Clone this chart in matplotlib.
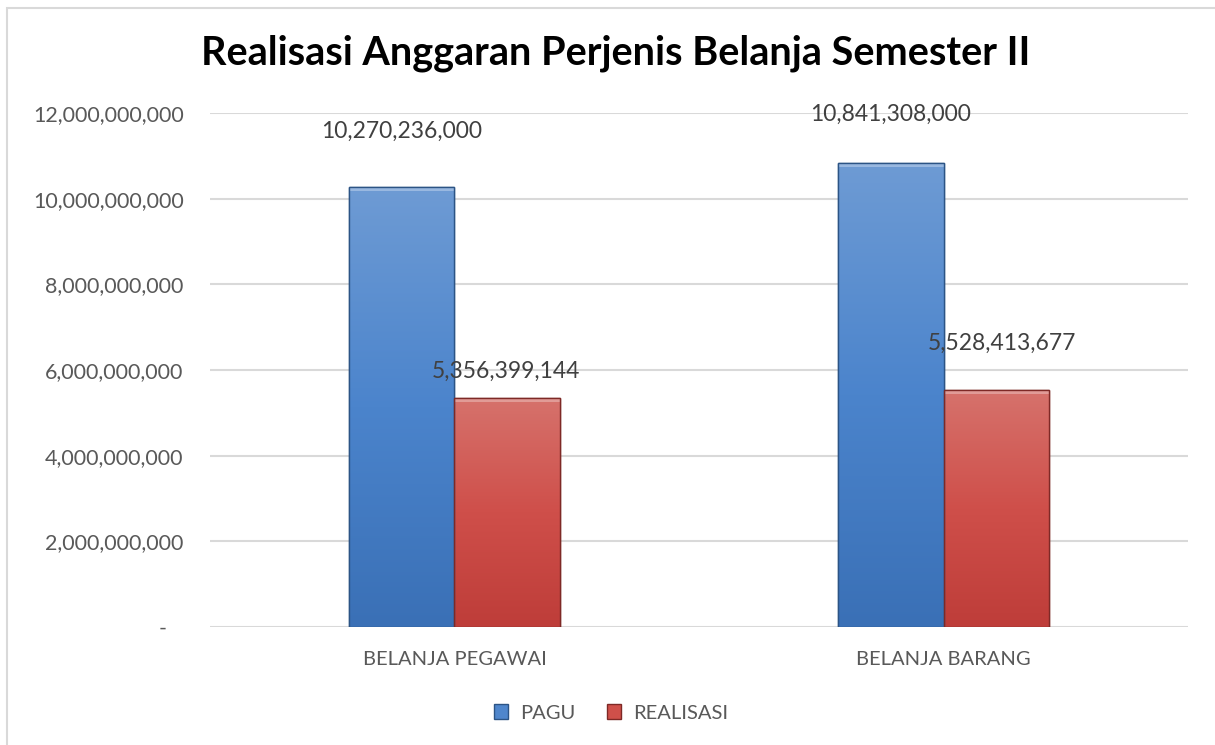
import matplotlib
matplotlib.use("Agg")
import matplotlib.pyplot as plt
import numpy as np
from matplotlib.colors import LinearSegmentedColormap
from matplotlib.ticker import FuncFormatter, MultipleLocator
from matplotlib.patches import Rectangle

categories = ["BELANJA PEGAWAI", "BELANJA BARANG"]
series_names = ["PAGU", "REALISASI"]
pagu = [10270236000, 10841308000]
realisasi = [5356399144, 5528413677]
title = "Realisasi Anggaran Perjenis Belanja Semester II"

plt.rcParams['font.family'] = ['Lato', 'DejaVu Sans']

fig = plt.figure(figsize=(12.15, 7.45), dpi=100)
ax = fig.add_axes([0.1728, 0.1584, 0.805, 0.6899])

x = np.arange(len(categories))
w = 0.215
cmaps = [
    LinearSegmentedColormap.from_list("b", ["#3a70b6", "#4b84cc", "#6e9bd4"]),
    LinearSegmentedColormap.from_list("r", ["#be3d39", "#cf4f4a", "#d6726c"]),
]
edges = ["#2c5485", "#7e2926"]
face = ["#4f86cc", "#cf504a"]

for i, vals in enumerate([pagu, realisasi]):
    bars = ax.bar(x + (i - 0.5) * w, vals, w, color=face[i], edgecolor=edges[i],
                  linewidth=1.0, zorder=3, label=series_names[i])
    grad = np.linspace(0, 1, 256).reshape(-1, 1)
    for b in bars:
        x0, y0 = b.get_x(), b.get_y()
        x1, y1 = x0 + b.get_width(), y0 + b.get_height()
        im = ax.imshow(grad, cmap=cmaps[i], origin="lower", aspect="auto",
                       extent=(x0, x1, y0, y1), zorder=3.5)
        im.set_clip_path(b)
        hb = 0.1e9
        ax.add_patch(Rectangle((x0, y1 - hb), b.get_width(), hb,
                               facecolor="white", alpha=0.3, edgecolor="none", zorder=3.6))
        ax.add_patch(Rectangle((x0, y0), b.get_width(), y1 - y0, facecolor="none",
                               edgecolor=edges[i], linewidth=1.0, zorder=3.7))

ax.set_xlim(-0.5, 1.5)
ax.set_ylim(0, 12e9)
ax.yaxis.set_major_locator(MultipleLocator(2e9))
ax.yaxis.set_major_formatter(FuncFormatter(lambda v, p: f"{v:,.0f}" if v else "-   "))
ax.grid(axis="y", color="#d9d9d9", linewidth=1.5, zorder=0)
ax.set_axisbelow(True)
for s in ax.spines.values():
    s.set_visible(False)
ax.tick_params(axis="y", length=0, pad=19, labelsize=15.5, labelcolor="#595959")
ax.tick_params(axis="x", length=0, pad=17, labelsize=14.5, labelcolor="#595959")
ax.set_xticks(x)
ax.set_xticklabels(categories)

offsets = [[(0, 40), (0, 35)], [(-1, 19), (4, 34)]]
for i, vals in enumerate([pagu, realisasi]):
    for j, v in enumerate(vals):
        ox, oy = offsets[i][j]
        ax.annotate(f"{v:,.0f}", (x[j] + (i - 0.5) * w, v), xytext=(ox, oy),
                    textcoords="offset points", ha="center", va="center",
                    fontsize=16.5, color="#404040", zorder=5)

fig.text(0.507, 0.928, title, ha="center", va="center", fontsize=28.5,
         fontweight="bold", color="black")

handles = [Rectangle((0, 0), 1, 1, facecolor=face[k], edgecolor=edges[k]) for k in range(2)]
fig.legend(handles, series_names, loc="center", bbox_to_anchor=(0.503, 0.043), ncol=2,
           frameon=False, fontsize=14.5, handlelength=0.7, handleheight=0.7,
           columnspacing=1.6, handletextpad=0.6, labelcolor="#595959")

fig.add_artist(Rectangle((0.006, -0.01), 1.2, 0.999, transform=fig.transFigure,
                         facecolor="none", edgecolor="#d9d9d9", linewidth=1.5))

fig.savefig("out.png", dpi=100)
